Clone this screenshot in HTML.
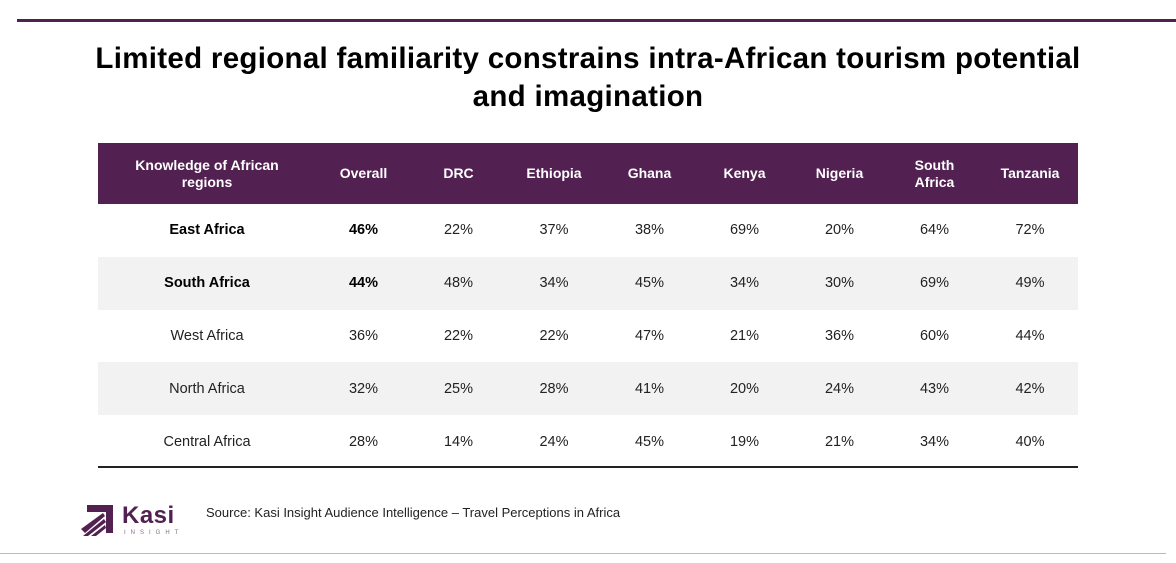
<!DOCTYPE html>
<html><head><style>
body{margin:0;width:1176px;height:563px;background:#fff;font-family:"Liberation Sans",sans-serif;position:relative;overflow:hidden}
.top{position:absolute;left:17px;top:19px;width:1159px;height:3px;background:#4f2150}
h1{position:absolute;left:0;top:40px;width:1176px;margin:0;text-align:center;font-size:29.5px;line-height:38px;font-weight:bold;color:#000;letter-spacing:0.3px}
table{position:absolute;left:98px;top:143px;border-collapse:collapse;width:980px;table-layout:fixed}
th{background:#522152;color:#fff;font-size:14px;font-weight:bold;height:61px;padding:0;line-height:17px}
td{height:52.8px;padding:0;text-align:center;font-size:14.5px;color:#222}
tr.g td{background:#f2f2f2}
td.b{font-weight:bold;color:#000}
.bl{position:absolute;left:98px;top:466px;width:980px;height:2px;background:#222}
.bot{position:absolute;left:0;top:553px;width:1166px;height:1px;background:#bbb}
.src{position:absolute;left:206px;top:505px;font-size:13px;color:#222}
.kasi{position:absolute;left:122px;top:502px;font-size:24px;font-weight:bold;color:#522152;letter-spacing:0.5px}
.ins{position:absolute;left:124px;top:530px;font-size:6px;letter-spacing:5px;color:#8a6a8a}
</style></head><body>
<div class="top"></div>
<h1>Limited regional familiarity constrains intra-African tourism potential<br>and imagination</h1>
<table>
<colgroup><col style="width:218px"><col style="width:95px"><col style="width:95px"><col style="width:96px"><col style="width:95px"><col style="width:95px"><col style="width:95px"><col style="width:95px"><col style="width:96px"></colgroup>
<tr><th>Knowledge of African<br>regions</th><th>Overall</th><th>DRC</th><th>Ethiopia</th><th>Ghana</th><th>Kenya</th><th>Nigeria</th><th>South<br>Africa</th><th>Tanzania</th></tr>
<tr><td class="b">East Africa</td><td class="b">46%</td><td>22%</td><td>37%</td><td>38%</td><td>69%</td><td>20%</td><td>64%</td><td>72%</td></tr>
<tr class="g"><td class="b">South Africa</td><td class="b">44%</td><td>48%</td><td>34%</td><td>45%</td><td>34%</td><td>30%</td><td>69%</td><td>49%</td></tr>
<tr><td>West Africa</td><td>36%</td><td>22%</td><td>22%</td><td>47%</td><td>21%</td><td>36%</td><td>60%</td><td>44%</td></tr>
<tr class="g"><td>North Africa</td><td>32%</td><td>25%</td><td>28%</td><td>41%</td><td>20%</td><td>24%</td><td>43%</td><td>42%</td></tr>
<tr><td>Central Africa</td><td>28%</td><td>14%</td><td>24%</td><td>45%</td><td>19%</td><td>21%</td><td>34%</td><td>40%</td></tr>
</table>
<div class="bl"></div>
<svg style="position:absolute;left:81px;top:505px" width="32" height="32" viewBox="0 0 32 32">
<polygon points="6,0 32,0 32,28 25,28 25,7 6,7" fill="#522152"/>
<polygon points="0,24 22,8 24,11 4,28" fill="#522152"/>
<polygon points="2,31 23,14 25,17 7,31" fill="#522152"/>
<polygon points="10,31 24,20 25,23 15,31" fill="#522152"/>
</svg>
<div class="kasi">Kasi</div>
<div class="ins">INSIGHT</div>
<div class="src">Source: Kasi Insight Audience Intelligence – Travel Perceptions in Africa</div>
<div class="bot"></div>
</body></html>
